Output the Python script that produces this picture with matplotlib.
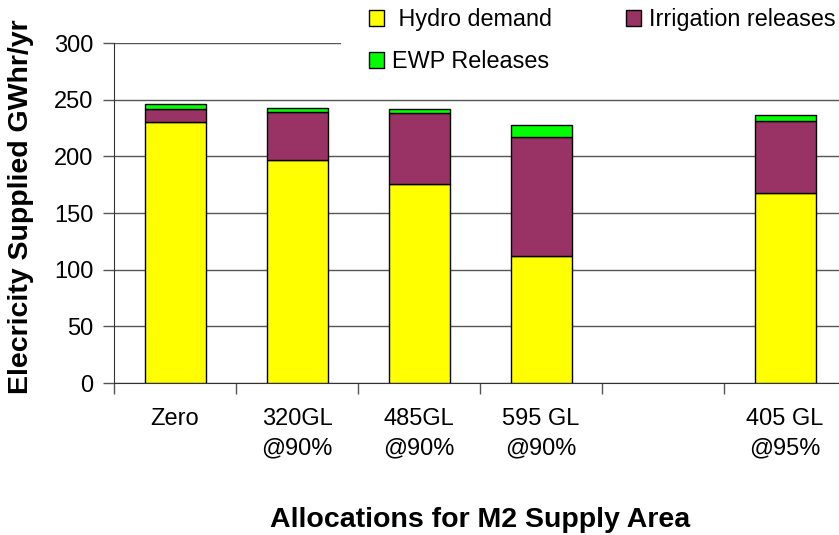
import numpy as np
import matplotlib.pyplot as plt
from matplotlib.patches import Patch, Rectangle

plt.rcParams['font.family'] = ['Liberation Sans', 'DejaVu Sans']

# data
categories = ["Zero", "320GL\n@90%", "485GL\n@90%", "595 GL\n@90%", "", "405 GL\n@95%"]
hydro = [230, 197, 176, 112, 0, 168]
irrigation = [12, 42, 62, 105, 0, 63]
ewp = [4.5, 4, 4, 11, 0, 5.5]

colors = {"hydro": "#ffff00", "irr": "#993366", "ewp": "#00ff00"}

fig = plt.figure(figsize=(8.39, 5.35), dpi=100)
ax = fig.add_axes([0.1359, 0.2841, 0.8725, 0.6355])

x = np.arange(len(categories))
hydro_a = np.array(hydro, dtype=float)
irr_a = np.array(irrigation, dtype=float)
ewp_a = np.array(ewp, dtype=float)
show = hydro_a + irr_a + ewp_a > 0

ax.bar(x[show], hydro_a[show], width=0.5, color=colors["hydro"], edgecolor="black", linewidth=1, zorder=3)
ax.bar(x[show], irr_a[show], bottom=hydro_a[show], width=0.5, color=colors["irr"], edgecolor="black", linewidth=1, zorder=3)
ax.bar(x[show], ewp_a[show], bottom=(hydro_a + irr_a)[show], width=0.5, color=colors["ewp"], edgecolor="black", linewidth=1, zorder=3)

ax.set_xlim(-0.5, len(categories) - 0.5)
ax.set_ylim(0, 300)
ax.set_yticks(range(0, 301, 50))
ax.yaxis.grid(True, color="#555555", linewidth=1, zorder=0)
ax.set_axisbelow(True)

ax.set_xticks(x)
ax.set_xticklabels(categories, fontsize=17, linespacing=1.42)
ax.set_xticks(np.arange(-0.5, len(categories)), minor=True)
ax.tick_params(axis="x", which="major", length=0, pad=18)
ax.tick_params(axis="x", which="minor", length=8, width=1, color="#555555")
ax.tick_params(axis="y", length=8, width=1, labelsize=17, pad=7, color="#555555")

for s in ["top", "right"]:
    ax.spines[s].set_visible(False)
ax.spines["left"].set_color("#333333")
ax.spines["bottom"].set_color("#333333")

# axis titles
fig.text(21 / 839, 1 - 207 / 535, "Elecricity Supplied GWhr/yr", rotation=90,
         ha="center", va="center", fontsize=20.5, fontweight="bold")
fig.text(480 / 839, 8 / 535, "Allocations for M2 Supply Area", ha="center", va="baseline",
         fontsize=20.5, fontweight="bold")

# white block behind the legend hides the top gridline there
fig.add_artist(Rectangle((341 / 839, 1 - 75 / 535), 1, 75 / 535, transform=fig.transFigure,
                         facecolor="white", edgecolor="none", zorder=5))

# column-major fill so rows read: Hydro, Irrigation / EWP
handles = [Patch(facecolor=colors["hydro"], edgecolor="black", label=" Hydro demand"),
           Patch(facecolor=colors["ewp"], edgecolor="black", label="EWP Releases"),
           Patch(facecolor=colors["irr"], edgecolor="black", label="Irrigation releases")]
leg = fig.legend(handles=handles, ncol=2, loc="upper left", bbox_to_anchor=(369 / 839, 0.985),
                 frameon=False, fontsize=16.8, handlelength=0.65, handleheight=0.65,
                 handletextpad=0.34, columnspacing=3.15, labelspacing=0.82, borderpad=0,
                 borderaxespad=0)
leg.set_zorder(10)

fig.savefig("out.png", dpi=100)
